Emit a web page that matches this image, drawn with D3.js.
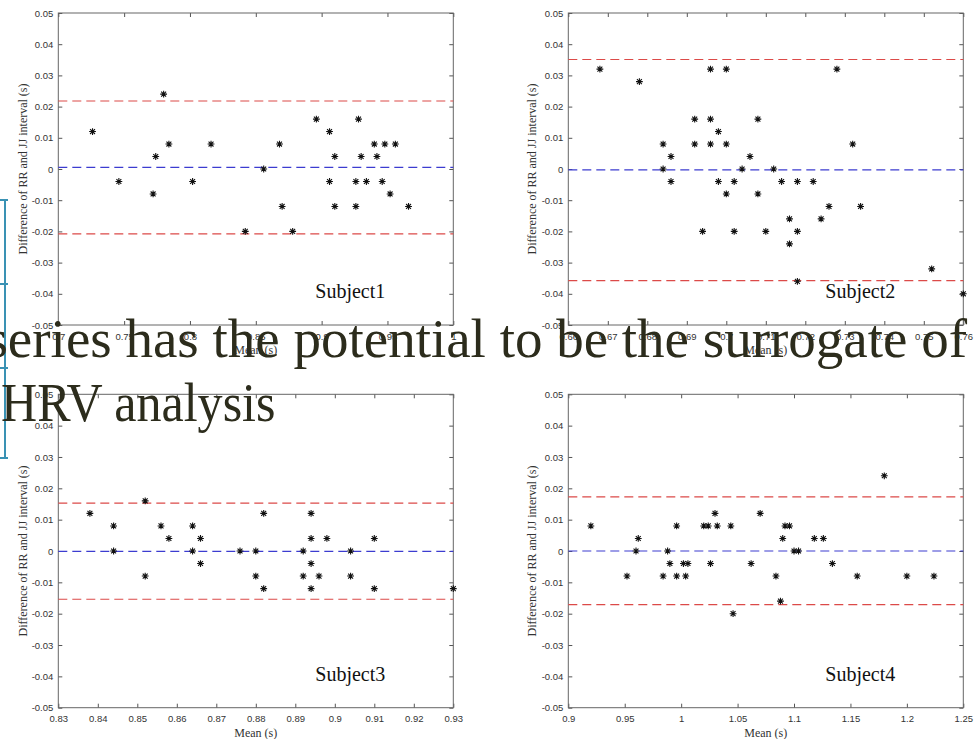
<!DOCTYPE html>
<html>
<head>
<meta charset="utf-8">
<script src="https://cdn.jsdelivr.net/npm/d3@7"></script>
<style>
  html, body { margin: 0; padding: 0; background: #fff; }
  svg { display: block; }
</style>
</head>
<body>
<svg id="chart" width="974" height="739"></svg>
<script>
// Bland-Altman data, one set per subject
const subjects = ['Subject1', 'Subject2', 'Subject3', 'Subject4'];
const xDomains = [[0.7, 1.0], [0.66, 0.76], [0.83, 0.93], [0.9, 1.25]];
const xSteps = [0.05, 0.01, 0.01, 0.05];
const yDomain = [-0.05, 0.05];

const s1Mean = [0.726, 0.746, 0.772, 0.774, 0.780, 0.784, 0.802, 0.816, 0.842, 0.856, 0.868, 0.870, 0.878, 0.896, 0.906, 0.906, 0.910, 0.910, 0.926, 0.926, 0.928, 0.930, 0.934, 0.940, 0.942, 0.946, 0.948, 0.952, 0.956, 0.966];
const s1Diff = [0.012, -0.004, -0.008, 0.004, 0.024, 0.008, -0.004, 0.008, -0.020, 0, 0.008, -0.012, -0.020, 0.016, 0.012, -0.004, 0.004, -0.012, -0.004, -0.012, 0.016, 0.004, -0.004, 0.008, 0.004, -0.004, 0.008, -0.008, 0.008, -0.012];

const s2Mean = [0.668, 0.678, 0.684, 0.684, 0.686, 0.686, 0.692, 0.692, 0.694, 0.696, 0.696, 0.696, 0.698, 0.698, 0.700, 0.700, 0.700, 0.702, 0.702, 0.704, 0.706, 0.708, 0.708, 0.710, 0.712, 0.714, 0.716, 0.716, 0.718, 0.718, 0.718, 0.722, 0.724, 0.726, 0.728, 0.732, 0.734, 0.752, 0.760];
const s2Diff = [0.032, 0.028, 0.008, 0, 0.004, -0.004, 0.016, 0.008, -0.020, 0.032, 0.016, 0.008, 0.012, -0.004, 0.032, 0.008, -0.008, -0.004, -0.020, 0, 0.004, 0.016, -0.008, -0.020, 0, -0.004, -0.016, -0.024, -0.004, -0.020, -0.036, -0.004, -0.016, -0.012, 0.032, 0.008, -0.012, -0.032, -0.040];

const s3Mean = [0.838, 0.844, 0.844, 0.852, 0.852, 0.856, 0.858, 0.864, 0.864, 0.866, 0.866, 0.876, 0.880, 0.880, 0.882, 0.882, 0.892, 0.892, 0.894, 0.894, 0.894, 0.894, 0.896, 0.898, 0.904, 0.904, 0.910, 0.910, 0.930];
const s3Diff = [0.012, 0.008, 0, 0.016, -0.008, 0.008, 0.004, 0.008, 0, 0.004, -0.004, 0, 0, -0.008, 0.012, -0.012, 0, -0.008, 0.012, 0.004, -0.004, -0.012, -0.008, 0.004, 0, -0.008, 0.004, -0.012, -0.012];

const s4Mean = [0.920, 0.952, 0.960, 0.962, 0.984, 0.988, 0.990, 0.996, 0.996, 1.002, 1.004, 1.006, 1.020, 1.024, 1.026, 1.030, 1.032, 1.044, 1.046, 1.062, 1.070, 1.084, 1.088, 1.090, 1.092, 1.096, 1.100, 1.104, 1.118, 1.126, 1.134, 1.156, 1.180, 1.200, 1.224];
const s4Diff = [0.008, -0.008, 0, 0.004, -0.008, 0, -0.004, 0.008, -0.008, -0.004, -0.008, -0.004, 0.008, 0.008, -0.004, 0.012, 0.008, 0.008, -0.020, -0.004, 0.012, -0.008, -0.016, 0.004, 0.008, 0.008, 0, 0, 0.004, 0.004, -0.004, -0.008, 0.024, -0.008, -0.008];

// mean difference and limits of agreement
const biasVals = [0.0005, -0.0003, -0.0001, 0];
const upperLoA = [0.0218, 0.0351, 0.0153, 0.0173];
const lowerLoA = [-0.0208, -0.0358, -0.0154, -0.0171];

const overlayLines = ['series has the potential to be the surrogate of', 'HRV analysis'];

const means = [s1Mean, s2Mean, s3Mean, s4Mean];
const diffs = [s1Diff, s2Diff, s3Diff, s4Diff];

// panel frames (plot area) in px
const frames = [
    {x0: 58.3, x1: 453.3, y0: 13, y1: 325},
    {x0: 568.3, x1: 963.3, y0: 13, y1: 325},
    {x0: 58.3, x1: 453.3, y0: 394.3, y1: 707.7},
    {x0: 568.3, x1: 963.3, y0: 394.3, y1: 707.7}
];

const svg = d3.select("#chart");
const fmt = d => String(+d.toFixed(3));
const tickFont = "'Liberation Sans', Arial, sans-serif";
const serif = "'Liberation Serif', 'Times New Roman', serif";

// asterisk marker like MATLAB '*'
const r = 3.4, a = r * 0.72;
const starPath = `M0,${-r}L0,${r}M${-r},0L${r},0M${-a},${-a}L${a},${a}M${-a},${a}L${a},${-a}`;

frames.forEach((f, i) => {
    const w = f.x1 - f.x0, h = f.y1 - f.y0;
    const g = svg.append("g").attr("transform", `translate(${f.x0},${f.y0})`);

    const x = d3.scaleLinear().domain(xDomains[i]).range([0, w]);
    const y = d3.scaleLinear().domain(yDomain).range([h, 0]);

    const [d0, d1] = xDomains[i];
    const nx = Math.round((d1 - d0) / xSteps[i]);
    const xTicks = d3.range(nx + 1).map(k => +(d0 + k * xSteps[i]).toFixed(3));
    const yTicks = d3.range(11).map(k => +(-0.05 + k * 0.01).toFixed(2));

    // axes with inward ticks
    const styleAxis = sel => {
        sel.select(".domain").remove();
        sel.selectAll(".tick line").attr("stroke", "#555");
        sel.selectAll(".tick text")
            .attr("fill", "#333")
            .style("font-family", tickFont)
            .style("font-size", "9.5px");
    };
    g.append("g").attr("transform", `translate(0,${h})`)
        .call(d3.axisBottom(x).tickValues(xTicks).tickSize(-4).tickPadding(8).tickFormat(fmt))
        .call(styleAxis);
    g.append("g")
        .call(d3.axisTop(x).tickValues(xTicks).tickSize(-4).tickFormat(""))
        .call(styleAxis);
    g.append("g")
        .call(d3.axisLeft(y).tickValues(yTicks).tickSize(-4).tickPadding(5).tickFormat(fmt))
        .call(styleAxis);
    g.append("g").attr("transform", `translate(${w},0)`)
        .call(d3.axisRight(y).tickValues(yTicks).tickSize(-4).tickFormat(""))
        .call(styleAxis);

    g.append("rect")
        .attr("width", w).attr("height", h)
        .attr("fill", "none").attr("stroke", "#666").attr("stroke-width", 1);

    // limits of agreement and bias
    const hlines = [
        {v: upperLoA[i], c: "#dc4a48"},
        {v: lowerLoA[i], c: "#dc4a48"},
        {v: biasVals[i], c: "#3c3cd0"}
    ];
    g.selectAll(".ref").data(hlines).enter().append("line")
        .attr("class", "ref")
        .attr("x1", 0).attr("x2", w)
        .attr("y1", d => y(d.v)).attr("y2", d => y(d.v))
        .attr("stroke", d => d.c)
        .attr("stroke-width", 1.2)
        .attr("stroke-dasharray", "9,5");

    // points
    const pts = means[i].map((m, k) => ({m: m, d: diffs[i][k]}));
    g.selectAll(".pt").data(pts).enter().append("path")
        .attr("class", "pt")
        .attr("d", starPath)
        .attr("transform", d => `translate(${x(d.m)},${y(d.d)})`)
        .attr("stroke", "#111")
        .attr("stroke-width", 1.1)
        .attr("fill", "none");

    // labels
    g.append("text")
        .attr("x", w / 2).attr("y", h + 29)
        .attr("text-anchor", "middle")
        .style("font-family", serif).style("font-size", "12px")
        .attr("fill", "#333")
        .text("Mean (s)");

    const labX = (i % 2 === 0) ? 22.7 - f.x0 : 531.7 - f.x0;
    g.append("text")
        .attr("transform", `translate(${labX},${h / 2}) rotate(-90)`)
        .attr("text-anchor", "middle")
        .attr("dy", "0.35em")
        .style("font-family", serif).style("font-size", "12px")
        .attr("fill", "#333")
        .text("Difference of RR and JJ interval (s)");

    g.append("text")
        .attr("transform", `translate(${w - 138},${h - 27}) scale(0.91,1)`)
        .style("font-family", serif).style("font-size", "22px")
        .attr("fill", "#111")
        .text(subjects[i]);
});

// slide overlay on top of the figure
const bracket = svg.append("g").attr("stroke", "#3a92b4").attr("stroke-width", 2);
bracket.append("line").attr("x1", 5).attr("x2", 5).attr("y1", 200).attr("y2", 458);
[200, 284, 368, 458].forEach(yy => {
    bracket.append("line").attr("x1", 0).attr("x2", 8).attr("y1", yy).attr("y2", yy);
});

svg.selectAll(".overlay").data(overlayLines).enter().append("text")
    .attr("class", "overlay")
    .attr("transform", (d, k) => k === 0 ? `translate(967,357)` : `translate(1,421) scale(0.91,1)`)
    .attr("text-anchor", (d, k) => k === 0 ? "end" : "start")
    .style("font-family", serif).style("font-size", "55px")
    .attr("fill", "#2c2c1c")
    .text(d => d);
</script>
</body>
</html>
